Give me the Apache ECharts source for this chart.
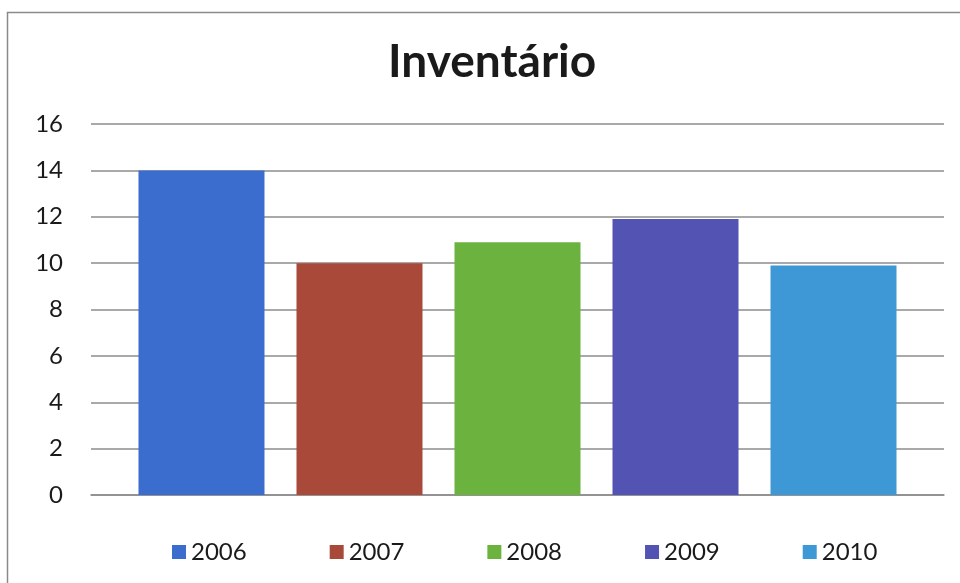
<!DOCTYPE html>
<html>
<head>
<meta charset="utf-8">
<script src="https://cdn.jsdelivr.net/npm/echarts@6/dist/echarts.min.js"></script>
<style>html,body{margin:0;padding:0;background:#fff}#c{width:960px;height:583px}</style>
</head>
<body>
<div id="c"></div>
<script>
var titleText = 'Inventário';
var years = ['2006', '2007', '2008', '2009', '2010'];
var values = [14, 10, 10.9, 11.9, 9.9];
var colors = ['#3b6dcf', '#a9493a', '#6cb23e', '#5353b3', '#3e98d6'];
var yTicks = { min: 0, max: 16, interval: 2 };

var chart = echarts.init(document.getElementById('c'), null, { renderer: 'canvas' });
var FONT = 'Lato, "Open Sans", sans-serif';

var series = years.map(function (y, i) {
  return {
    name: y,
    type: 'bar',
    data: [values[i]],
    barWidth: 126,
    barGap: '25.4%',
    itemStyle: { color: colors[i] }
  };
});

chart.setOption({
  animation: false,
  backgroundColor: '#fff',
  color: colors,
  title: {
    text: titleText,
    left: 388,
    top: 39,
    padding: 0,
    textStyle: { fontFamily: FONT, fontWeight: 'bold', fontSize: 46, color: '#1a1a1a' }
  },
  graphic: [{
    type: 'rect',
    shape: { x: 7.5, y: 12.5, width: 980, height: 620 },
    style: { fill: 'none', stroke: '#8a8a8a', lineWidth: 1.5 },
    silent: true
  }],
  legend: {
    data: years,
    left: 172,
    top: 540,
    padding: 0,
    icon: 'rect',
    itemWidth: 14,
    itemHeight: 14,
    itemGap: 83,
    textStyle: { fontFamily: FONT, fontSize: 24, color: '#1a1a1a' }
  },
  grid: { left: 91, right: 16, top: 124, bottom: 88, containLabel: false },
  xAxis: {
    type: 'category',
    data: [''],
    axisLine: { show: true, lineStyle: { color: '#8c8c8c', width: 1.5 } },
    axisTick: { show: false },
    axisLabel: { show: false }
  },
  yAxis: {
    type: 'value',
    min: yTicks.min,
    max: yTicks.max,
    interval: yTicks.interval,
    axisLine: { show: false },
    axisTick: { show: false },
    axisLabel: { fontFamily: FONT, fontSize: 24, color: '#1a1a1a', margin: 28 },
    splitLine: { lineStyle: { color: '#8c8c8c', width: 1.5 } }
  },
  series: series
});
</script>
</body>
</html>
